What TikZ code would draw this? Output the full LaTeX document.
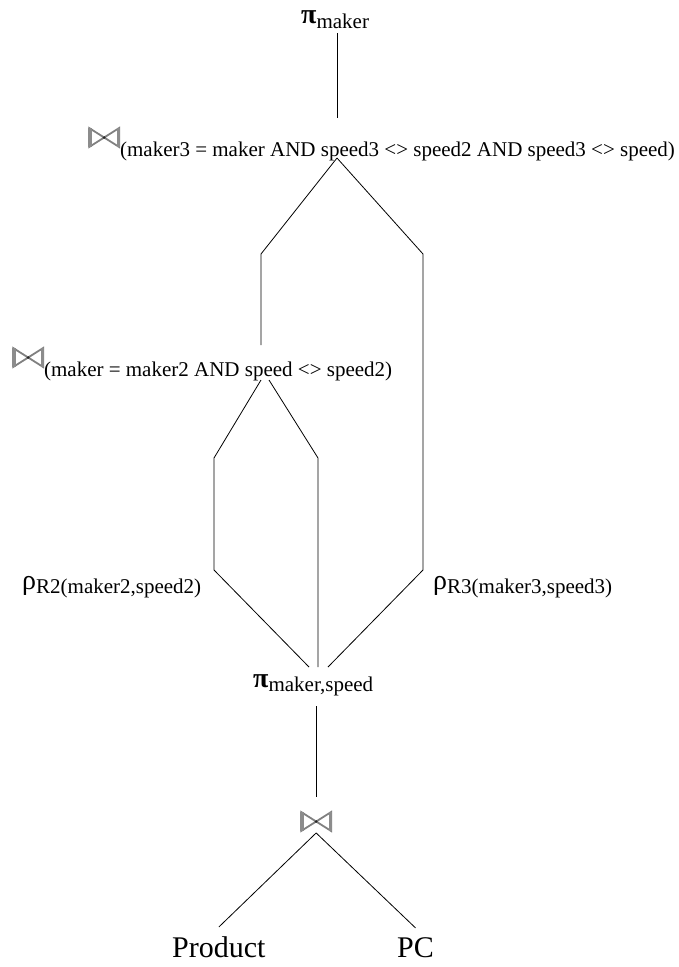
\documentclass[tikz,border=0pt]{standalone}
\usepackage{fontspec}
\setmainfont{Liberation Serif}
\usepackage{tikz}

\tikzset{
  op/.style={anchor=base west,inner sep=0pt,font=\fontsize{28}{28}\selectfont},
  rel/.style={anchor=base west,inner xsep=0pt,inner ysep=9pt,font=\fontsize{30}{30}\selectfont},
  edge/.style={line width=0.8pt,black},
}
\newcommand{\opsub}[2][5pt]{\raisebox{-#1}{\fontsize{21}{21}\selectfont #2}}
\newcommand{\joinsym}{\tikz[baseline=0pt]{
  \draw[black!50,line width=1.8pt,line join=miter]
    (0pt,0pt) -- (0pt,19pt) -- (30pt,0pt) -- (30pt,19pt) -- cycle;
  \draw[black!45,line width=3.5pt] (0.8pt,0pt) -- (0.8pt,19pt) (29.2pt,0pt) -- (29.2pt,19pt);
  \fill[black!85] (15pt,9.5pt) circle (1.4pt);}}

\begin{document}
\begin{tikzpicture}[x=1pt,y=-1pt]
\useasboundingbox (0,0) rectangle (679,967);

\node[op] (pimk) at (301,23) {\textbf{π}\opsub{maker}};
\node[op] (jn1) at (88,147) {\joinsym\opsub[9pt]{(maker3 = maker AND speed3 <> speed2 AND speed3 <> speed)}};
\node[op] (jn2) at (12,367) {\joinsym\opsub[9pt]{(maker = maker2 AND speed <> speed2)}};
\node[op] (rho2) at (22,589) {ρ\opsub[4pt]{R2(maker2,speed2)}};
\node[op] (rho3) at (433,589) {ρ\opsub[4pt]{R3(maker3,speed3)}};
\node[op] (pims) at (253,687) {\textbf{π}\opsub[4pt]{maker,speed}};
\node[op] (jn3) at (300,831) {\joinsym};
\node[rel] (prod) at (172,957) {Product};
\node[rel] (pc) at (397,957) {PC};

% joints of the tree
\coordinate (pimk-b) at (337,33);
\coordinate (jn1-t) at (337,118);
\coordinate (jn1-b) at (337,158);
\coordinate (jn1-l) at (261,254);
\coordinate (jn1-r) at (423,254);
\coordinate (jn2-t) at (261,345);
\coordinate (jn2-bl) at (261,380);
\coordinate (jn2-br) at (269,380);
\coordinate (jn2-l) at (214,458);
\coordinate (jn2-r) at (318,458);
\coordinate (rho2-c) at (214,570);
\coordinate (rho3-c) at (423,570);
\coordinate (pims-l) at (309,667);
\coordinate (pims-m) at (318,667);
\coordinate (pims-r) at (328,667);
\coordinate (pims-b) at (316,706);
\coordinate (jn3-t) at (316,797);

\draw[edge] (pimk-b) -- (jn1-t);
\draw[edge] (jn1-b) -- (jn1-l) -- (jn2-t);
\draw[edge] (jn1-b) -- (jn1-r) -- (rho3-c) -- (pims-r);
\draw[edge] (jn2-bl) -- (jn2-l) -- (rho2-c) -- (pims-l);
\draw[edge] (jn2-br) -- (jn2-r) -- (pims-m);
\draw[edge] (pims-b) -- (jn3-t);
\draw[edge] (jn3.south) -- (prod.north);
\draw[edge] (jn3.south) -- (pc.north);
\end{tikzpicture}
\end{document}
